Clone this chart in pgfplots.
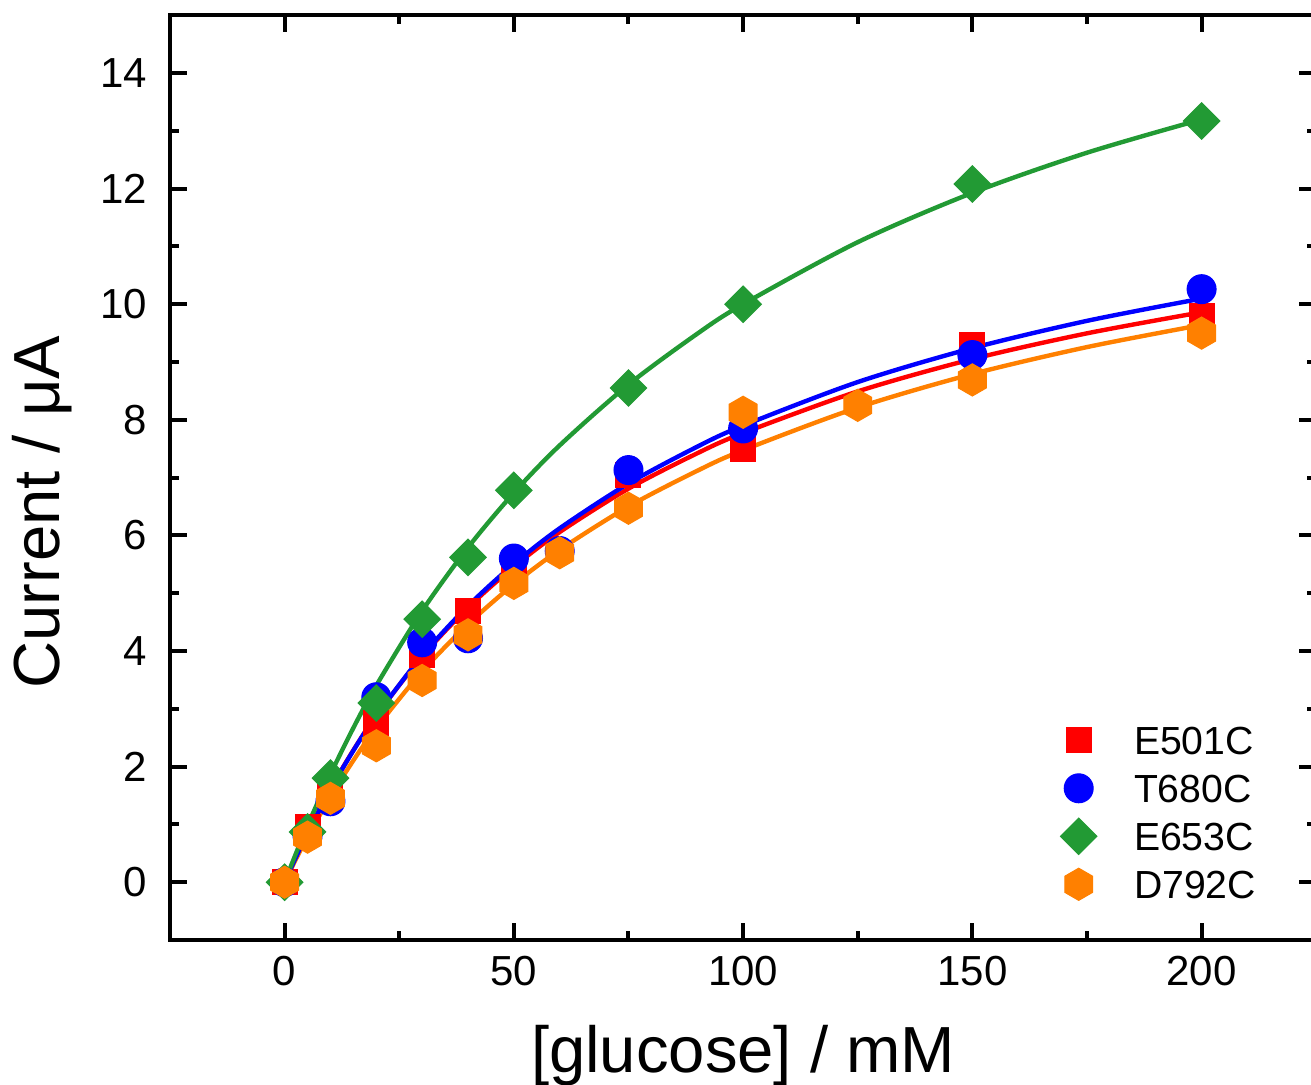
\documentclass[border=0pt]{standalone}
\usepackage{fontspec}
\setmainfont{Liberation Sans}
\usepackage{pgfplots}
\pgfplotsset{compat=1.18}
\definecolor{myred}{RGB}{255,0,0}
\definecolor{myblue}{RGB}{0,0,255}
\definecolor{mygreen}{RGB}{34,154,52}
\definecolor{myorange}{RGB}{255,128,0}
\pgfdeclareplotmark{hexagon*}{%
  \pgfpathmoveto{\pgfqpoint{0pt}{\pgfplotmarksize}}%
  \pgfpathlineto{\pgfqpoint{0.8660254\pgfplotmarksize}{0.5\pgfplotmarksize}}%
  \pgfpathlineto{\pgfqpoint{0.8660254\pgfplotmarksize}{-0.5\pgfplotmarksize}}%
  \pgfpathlineto{\pgfqpoint{0pt}{-\pgfplotmarksize}}%
  \pgfpathlineto{\pgfqpoint{-0.8660254\pgfplotmarksize}{-0.5\pgfplotmarksize}}%
  \pgfpathlineto{\pgfqpoint{-0.8660254\pgfplotmarksize}{0.5\pgfplotmarksize}}%
  \pgfpathclose
  \pgfusepathqfillstroke
}
\pgfplotsset{myleg/.style={legend image code/.code={\draw[##1] plot coordinates {(0pt,0pt)};}}}

\begin{document}
\begin{tikzpicture}
\begin{axis}[
  scale only axis, width=286.56pt, height=231.2pt,
  xmin=-25, xmax=225, ymin=-1, ymax=15,
  xtick={0,50,...,200}, ytick={0,2,...,14},
  minor x tick num=1, minor y tick num=1,
  tick align=inside,
  major tick length=4.3pt, minor tick length=2.2pt,
  axis line style={line width=1.1pt},
  every tick/.style={black, line width=1pt},
  tick label style={font=\fontsize{10.5}{12}\selectfont},
  /pgf/number format/assume math mode=true,
  xticklabel style={inner sep=0pt, yshift=-3.75pt},
  yticklabel style={inner sep=0pt, xshift=-5.5pt},
  xlabel={[glucose] / mM}, ylabel={Current / μA},
  label style={font=\fontsize{16.3}{19}\selectfont},
  xlabel style={at={([yshift=-33.25pt]axis description cs:0.5,0)}, anchor=base, inner sep=0pt},
  ylabel style={at={([xshift=-27.5pt]axis description cs:0,0.4627)}, anchor=base, inner sep=0pt},
  legend cell align=left,
  legend style={at={(axis description cs:0.777,0.2419)}, anchor=north west, draw=none, fill=none,
    inner sep=0pt, outer sep=0pt, column sep=9.3pt, row sep=0pt,
    font=\fontsize{9.8}{11}\selectfont,
    nodes={inner sep=0pt, text height=9.5pt, text depth=2.5pt}},
]
\coordinate (sw) at (rel axis cs:0,0);
% markers
\addplot[only marks, myleg, mark=square*, mark size=3.1pt, mark options={draw=myred, fill=myred, line width=0.3pt}]
  coordinates {(0,0) (5,0.95) (10,1.5) (20,2.75) (30,3.93) (40,4.7) (50,5.5) (75,7.05) (100,7.5) (150,9.3) (200,9.8)};
\addlegendentry{E501C}
\addplot[only marks, myleg, mark=*, mark size=3.6pt, mark options={draw=myblue, fill=myblue, line width=0.3pt}]
  coordinates {(0,0) (5,0.8) (10,1.4) (20,3.2) (30,4.15) (40,4.22) (50,5.6) (60,5.73) (75,7.13) (100,7.85) (150,9.12) (200,10.26)};
\addlegendentry{T680C}
\addplot[only marks, myleg, mark=square*, mark size=3.2pt, mark options={draw=mygreen, fill=mygreen, line width=0.3pt, rotate=45}]
  coordinates {(0,0) (5,0.87) (10,1.8) (20,3.1) (30,4.55) (40,5.62) (50,6.78) (75,8.55) (100,10.0) (150,12.08) (200,13.17)};
\addlegendentry{E653C}
\addplot[only marks, myleg, mark=hexagon*, mark size=4pt, mark options={draw=myorange, fill=myorange, line width=0.3pt}]
  coordinates {(0,0) (5,0.78) (10,1.45) (20,2.36) (30,3.49) (40,4.28) (50,5.17) (60,5.7) (75,6.47) (100,8.13) (125,8.25) (150,8.69) (200,9.5)};
\addlegendentry{D792C}
% fitted curves
\addplot[forget plot, myorange, line width=1.1pt, smooth, no marks] coordinates {
 (0,0) (2.5,0.403) (5,0.783) (10,1.481) (15,2.107) (20,2.671) (30,3.647) (40,4.463) (50,5.156) (60,5.750) (75,6.500) (90,7.118) (100,7.474) (125,8.212) (150,8.792) (175,9.258) (200,9.641)};
\addplot[forget plot, myred, line width=1.1pt, smooth, no marks] coordinates {
 (0,0) (2.5,0.443) (5,0.858) (10,1.614) (15,2.284) (20,2.882) (30,3.906) (40,4.750) (50,5.457) (60,6.058) (75,6.809) (90,7.421) (100,7.771) (125,8.491) (150,9.050) (175,9.496) (200,9.861)};
\addplot[forget plot, myblue, line width=1.1pt, smooth, no marks] coordinates {
 (0,0) (2.5,0.439) (5,0.852) (10,1.606) (15,2.278) (20,2.882) (30,3.919) (40,4.779) (50,5.504) (60,6.123) (75,6.898) (90,7.535) (100,7.899) (125,8.653) (150,9.240) (175,9.712) (200,10.097)};
\addplot[forget plot, mygreen, line width=1.1pt, smooth, no marks] coordinates {
 (0,0) (2.5,0.503) (5,0.980) (10,1.865) (15,2.670) (20,3.404) (30,4.694) (40,5.791) (50,6.736) (60,7.558) (75,8.609) (90,9.489) (100,10.0) (125,11.073) (150,11.926) (175,12.621) (200,13.197)};
\end{axis}
\pgfresetboundingbox
\path[use as bounding box] (sw) ++(-42.5pt,-36.25pt) rectangle ++(327.75pt,271.25pt);
\end{tikzpicture}
\end{document}
